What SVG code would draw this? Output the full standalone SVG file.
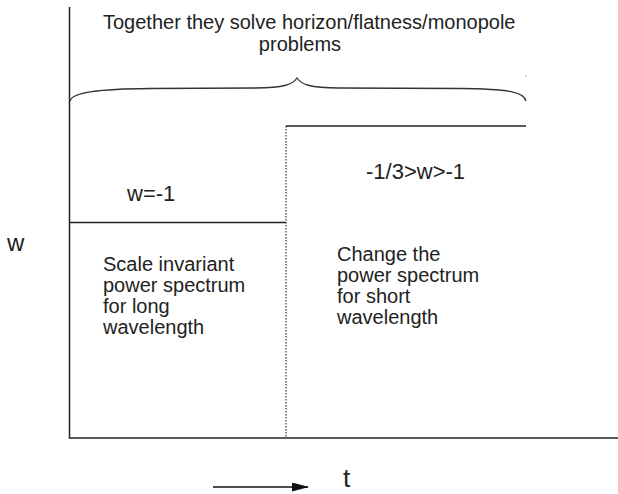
<svg xmlns="http://www.w3.org/2000/svg" width="618" height="494" viewBox="0 0 618 494">
<style>
text{font-family:"Liberation Sans",Arial,sans-serif;fill:#222}
.ln{stroke:#222;stroke-width:1.5;fill:none}
.body{font-size:20px}
.lbl{font-size:22px}
</style>
<defs>
<marker id="ah" markerWidth="17" markerHeight="9" refX="16" refY="4.5" orient="auto" markerUnits="userSpaceOnUse">
<path d="M0,0 L17,4.5 L0,9 Z" fill="#111"/>
</marker>
</defs>
<rect width="618" height="494" fill="#fff"/>
<g id="connectors">
<line class="ln" x1="69.5" y1="7" x2="69.5" y2="438.5"/>
<line class="ln" x1="69" y1="438" x2="618" y2="438"/>
<line class="ln" x1="69" y1="222.5" x2="286" y2="222.5"/>
<line x1="286" y1="126" x2="286" y2="438" stroke="#333" stroke-width="1.2" stroke-dasharray="1.5,1.5"/>
<line class="ln" x1="286" y1="126" x2="526" y2="126"/>
<path d="M70,101 C72,92 100,89 150,88.5 L255,88 C285,88 293,84 297,78 C301,84 309,88 339,88 L460,88.5 C510,89 524,92 526,101" fill="none" stroke="#333" stroke-width="1.3"/>
<rect x="525.5" y="75.5" width="1" height="1.5" fill="#999"/>
<line x1="213" y1="487" x2="308" y2="487" stroke="#111" stroke-width="1.3" marker-end="url(#ah)"/>
</g>
<g id="title">
<text class="body" x="103" y="29">Together they solve horizon/flatness/monopole</text>
<text class="body" x="300" y="51" text-anchor="middle">problems</text>
</g>
<g id="axis-w"><text x="7" y="251" style="font-size:24px">w</text></g>
<g id="axis-t"><text x="343" y="487" style="font-size:26px">t</text></g>
<g id="phase1">
<text class="lbl" x="127" y="201">w=-1</text>
<text class="body" x="103" y="271">Scale invariant</text>
<text class="body" x="103" y="292">power spectrum</text>
<text class="body" x="103" y="313">for long</text>
<text class="body" x="103" y="334">wavelength</text>
</g>
<g id="phase2">
<text class="lbl" x="366" y="179">-1/3&gt;w&gt;-1</text>
<text class="body" x="337" y="261">Change the</text>
<text class="body" x="337" y="282">power spectrum</text>
<text class="body" x="337" y="303">for short</text>
<text class="body" x="337" y="324">wavelength</text>
</g>
</svg>
